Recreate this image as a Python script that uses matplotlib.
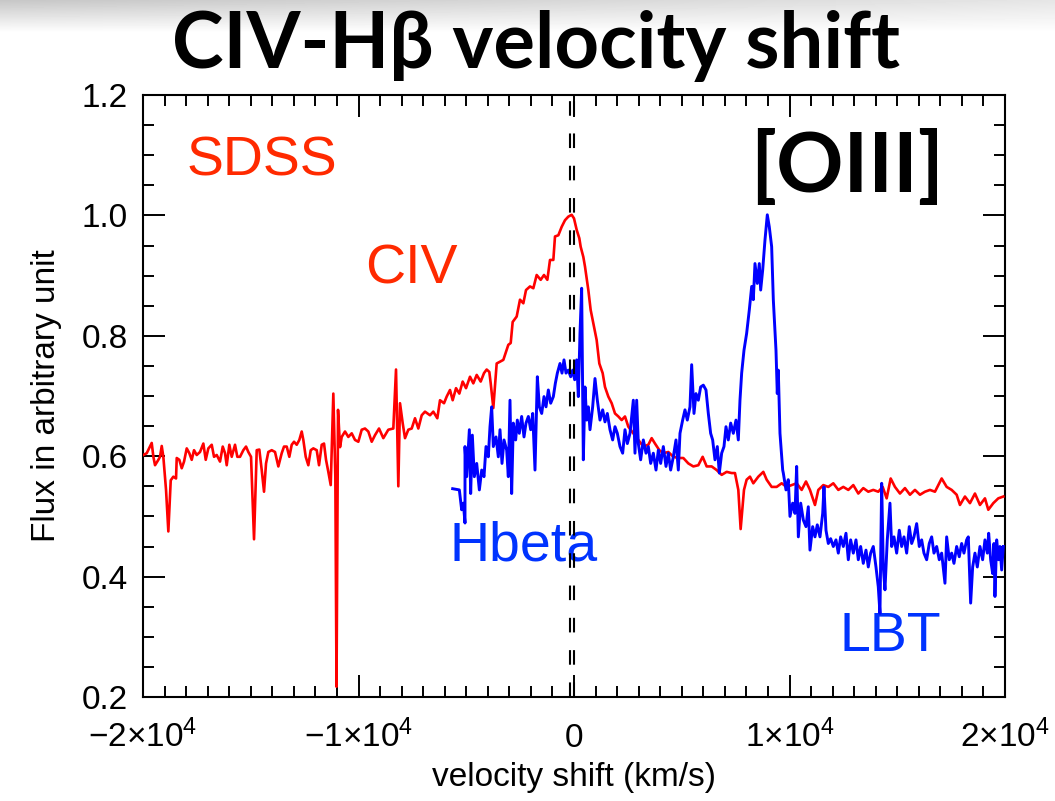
import matplotlib
matplotlib.use("Agg")
import matplotlib.pyplot as plt
import numpy as np

#=========================================
# DATA (velocity in km/s, flux in arbitrary units)
#=========================================

# SDSS CIV spectrum (red)
civ_vel = [-19985, -19827, -19674, -19596, -19518, -19442, -19288, -19210, -19131, -19056,
           -18931, -18824, -18713, -18592, -18467, -18435, -18314, -18203, -18096, -17971,
           -17850, -17739, -17632, -17507, -17354, -17200, -17089, -16968, -16811, -16704,
           -16579, -16426, -16300, -16194, -16115, -15994, -15883, -15730, -15623, -15498,
           -15344, -15219, -15112, -14987, -14848, -14723, -14602, -14491, -14384, -14291,
           -14184, -14027, -13874, -13720, -13563, -13456, -13331, -13210, -13099, -12992,
           -12867, -12746, -12635, -12560, -12449, -12328, -12217, -12096, -11939, -11832,
           -11707, -11600, -11507, -11400, -11289, -11168, -11075, -11020, -10950, -10858,
           -10780, -10626, -10472, -10315, -10162, -10008, -9851, -9698, -9545, -9387,
           -9234, -9048, -8848, -8617, -8384, -8259, -8152, -8074, -7950, -7842,
           -7688, -7531, -7378, -7224, -7067, -6914, -6682, -6529, -6343, -6218,
           -6032, -5908, -5754, -5630, -5475, -5321, -5166, -5011, -4826, -4672,
           -4515, -4330, -4176, -4052, -3929, -3865, -3744, -3588, -3434, -3279,
           -3048, -2937, -2846, -2660, -2506, -2351, -2227, -2042, -1887, -1732,
           -1546, -1392, -1237, -1114, -959, -882, -727, -572, -418, -263,
           -108, 0, 124, 247, 309, 433, 510, 665, 773, 897,
           1051, 1175, 1330, 1438, 1593, 1748, 1902, 2057, 2212, 2366,
           2521, 2753, 2985, 3217, 3449, 3604, 3758, 3960, 4145, 4377,
           4609, 4841, 5073, 5305, 5537, 5769, 5970, 6156, 6388, 6620,
           6852, 7084, 7316, 7470, 7625, 7733, 7888, 8011, 8166, 8321,
           8553, 8785, 8940, 9172, 9404, 9636, 9868, 10100, 10332, 10564,
           10765, 10950, 11182, 11337, 11569, 11801, 12033, 12265, 12497, 12729,
           12961, 13193, 13424, 13656, 13888, 14120, 14323, 14509, 14695, 14894,
           15126, 15358, 15590, 15822, 16054, 16286, 16518, 16750, 17061, 17293,
           17525, 17757, 17910, 18142, 18374, 18606, 18838, 19070, 19225, 19457,
           19689, 19921]
civ_flux = [0.602, 0.605, 0.616, 0.622, 0.599, 0.585, 0.594, 0.599, 0.617, 0.599,
            0.544, 0.475, 0.560, 0.566, 0.563, 0.597, 0.594, 0.580, 0.591, 0.613,
            0.605, 0.594, 0.610, 0.602, 0.607, 0.621, 0.594, 0.613, 0.619, 0.599,
            0.602, 0.591, 0.616, 0.605, 0.585, 0.619, 0.599, 0.619, 0.599, 0.599,
            0.610, 0.616, 0.607, 0.599, 0.462, 0.610, 0.611, 0.577, 0.541, 0.588,
            0.607, 0.610, 0.607, 0.583, 0.605, 0.616, 0.616, 0.599, 0.619, 0.624,
            0.619, 0.627, 0.641, 0.627, 0.599, 0.585, 0.610, 0.613, 0.610, 0.585,
            0.619, 0.621, 0.594, 0.574, 0.552, 0.704, 0.566, 0.217, 0.677, 0.615,
            0.632, 0.641, 0.632, 0.638, 0.627, 0.624, 0.644, 0.646, 0.641, 0.624,
            0.635, 0.646, 0.630, 0.644, 0.646, 0.744, 0.550, 0.688, 0.655, 0.630,
            0.644, 0.646, 0.663, 0.646, 0.668, 0.674, 0.668, 0.674, 0.663, 0.693,
            0.688, 0.699, 0.710, 0.693, 0.713, 0.704, 0.724, 0.713, 0.732, 0.721,
            0.735, 0.724, 0.738, 0.744, 0.740, 0.721, 0.680, 0.754, 0.757, 0.760,
            0.785, 0.788, 0.823, 0.832, 0.860, 0.854, 0.876, 0.882, 0.879, 0.901,
            0.893, 0.901, 0.893, 0.926, 0.926, 0.965, 0.967, 0.981, 0.992, 0.998,
            1.001, 0.995, 0.976, 0.962, 0.948, 0.931, 0.915, 0.876, 0.843, 0.821,
            0.793, 0.754, 0.738, 0.715, 0.699, 0.688, 0.671, 0.666, 0.660, 0.666,
            0.649, 0.638, 0.627, 0.616, 0.619, 0.630, 0.621, 0.610, 0.605, 0.607,
            0.599, 0.597, 0.597, 0.588, 0.583, 0.585, 0.599, 0.583, 0.583, 0.577,
            0.569, 0.574, 0.572, 0.572, 0.544, 0.479, 0.544, 0.561, 0.566, 0.555,
            0.566, 0.574, 0.561, 0.549, 0.549, 0.555, 0.549, 0.552, 0.555, 0.544,
            0.558, 0.544, 0.519, 0.544, 0.552, 0.549, 0.555, 0.544, 0.549, 0.544,
            0.552, 0.538, 0.547, 0.541, 0.544, 0.541, 0.549, 0.530, 0.563, 0.549,
            0.538, 0.547, 0.536, 0.544, 0.536, 0.541, 0.544, 0.541, 0.563, 0.549,
            0.544, 0.536, 0.519, 0.533, 0.522, 0.538, 0.519, 0.530, 0.511, 0.522,
            0.530, 0.533]

# LBT Hbeta spectrum (blue)
hb_vel = [-5630, -5321, -5213, -5135, -5058, -5058, -4980, -4856, -4795, -4718,
          -4625, -4515, -4392, -4283, -4176, -4083, -3976, -3898, -3820, -3744,
          -3619, -3512, -3434, -3341, -3248, -3124, -3048, -2970, -2893, -2816,
          -2707, -2630, -2538, -2429, -2320, -2227, -2118, -2010, -1916, -1810,
          -1701, -1608, -1499, -1392, -1299, -1191, -1082, -959, -866, -773,
          -650, -557, -464, -371, -263, -155, -62, 31, 124, 201,
          278, 355, 433, 510, 587, 665, 742, 866, 974, 1083,
          1206, 1330, 1438, 1547, 1670, 1794, 1902, 2011, 2134, 2258,
          2366, 2475, 2598, 2753, 2830, 2908, 2985, 3093, 3217, 3341,
          3449, 3558, 3681, 3805, 3913, 4022, 4145, 4269, 4377, 4485,
          4609, 4733, 4841, 4918, 5042, 5150, 5258, 5382, 5460, 5568,
          5661, 5769, 5877, 6001, 6125, 6233, 6341, 6434, 6542, 6650,
          6743, 6852, 6960, 7053, 7160, 7271, 7393, 7517, 7625, 7702,
          7780, 7888, 8011, 8135, 8245, 8321, 8398, 8506, 8599, 8662,
          8755, 8862, 8970, 9062, 9172, 9249, 9373, 9433, 9480, 9558,
          9684, 9713, 9837, 9943, 10022, 10147, 10254, 10332, 10410, 10519,
          10641, 10765, 10872, 10950, 11075, 11182, 11289, 11414, 11540, 11600,
          11693, 11801, 11910, 12033, 12157, 12265, 12374, 12497, 12621, 12729,
          12838, 12961, 13085, 13193, 13302, 13424, 13549, 13656, 13765, 13888,
          14013, 14120, 14198, 14277, 14352, 14430, 14537, 14662, 14741, 14848,
          14973, 15095, 15205, 15312, 15437, 15558, 15669, 15776, 15901, 16022,
          16133, 16240, 16365, 16486, 16597, 16704, 16829, 16950, 17061, 17214,
          17293, 17414, 17525, 17632, 17757, 17878, 17989, 18096, 18220, 18297,
          18406, 18499, 18606, 18715, 18838, 18962, 19070, 19179, 19242, 19335,
          19428, 19488, 19534, 19613, 19706, 19766, 19845, 19921]
hb_flux = [0.546, 0.544, 0.511, 0.522, 0.489, 0.616, 0.566, 0.644, 0.538, 0.635,
           0.566, 0.588, 0.544, 0.577, 0.566, 0.616, 0.599, 0.649, 0.682, 0.616,
           0.632, 0.599, 0.644, 0.588, 0.627, 0.610, 0.566, 0.693, 0.538, 0.655,
           0.627, 0.660, 0.638, 0.666, 0.632, 0.655, 0.666, 0.644, 0.671, 0.577,
           0.732, 0.682, 0.671, 0.699, 0.682, 0.710, 0.688, 0.699, 0.721, 0.738,
           0.754, 0.738, 0.760, 0.738, 0.743, 0.732, 0.743, 0.727, 0.760, 0.699,
           0.804, 0.879, 0.594, 0.715, 0.660, 0.682, 0.644, 0.682, 0.729, 0.693,
           0.660, 0.677, 0.657, 0.671, 0.644, 0.627, 0.649, 0.638, 0.616, 0.605,
           0.644, 0.621, 0.638, 0.693, 0.605, 0.693, 0.621, 0.594, 0.627, 0.605,
           0.616, 0.588, 0.605, 0.577, 0.610, 0.588, 0.616, 0.583, 0.605, 0.577,
           0.599, 0.627, 0.577, 0.638, 0.660, 0.677, 0.660, 0.682, 0.752, 0.671,
           0.704, 0.693, 0.715, 0.718, 0.710, 0.671, 0.638, 0.627, 0.594, 0.616,
           0.572, 0.605, 0.616, 0.649, 0.627, 0.655, 0.638, 0.660, 0.627, 0.693,
           0.738, 0.776, 0.804, 0.843, 0.882, 0.860, 0.920, 0.887, 0.920, 0.876,
           0.909, 0.959, 1.001, 0.981, 0.948, 0.860, 0.776, 0.704, 0.743, 0.638,
           0.577, 0.572, 0.544, 0.561, 0.500, 0.522, 0.505, 0.583, 0.466, 0.522,
           0.494, 0.483, 0.516, 0.444, 0.483, 0.466, 0.486, 0.466, 0.505, 0.549,
           0.477, 0.455, 0.463, 0.450, 0.461, 0.439, 0.466, 0.450, 0.472, 0.428,
           0.461, 0.439, 0.461, 0.428, 0.450, 0.422, 0.444, 0.416, 0.439, 0.450,
           0.416, 0.383, 0.339, 0.555, 0.416, 0.378, 0.461, 0.522, 0.450, 0.466,
           0.439, 0.477, 0.450, 0.466, 0.439, 0.483, 0.455, 0.466, 0.488, 0.450,
           0.461, 0.439, 0.428, 0.455, 0.466, 0.439, 0.450, 0.428, 0.439, 0.389,
           0.466, 0.428, 0.439, 0.422, 0.450, 0.433, 0.455, 0.439, 0.461, 0.466,
           0.356, 0.416, 0.439, 0.416, 0.450, 0.428, 0.461, 0.439, 0.472, 0.428,
           0.405, 0.455, 0.367, 0.461, 0.428, 0.450, 0.411, 0.450]

# dashed reference lines (km/s)
ref_lines = [-200, 0]

x_ticks = [-20000, -10000, 0, 10000, 20000]
x_ticklabels = [r"$-2{\times}10^{4}$", r"$-1{\times}10^{4}$", "0",
                r"$1{\times}10^{4}$", r"$2{\times}10^{4}$"]
y_ticks = [0.2, 0.4, 0.6, 0.8, 1.0, 1.2]

#=========================================
# FIGURE
#=========================================
plt.rcParams["font.family"] = ["Liberation Sans", "DejaVu Sans"]
plt.rcParams["mathtext.fontset"] = "custom"
plt.rcParams["mathtext.rm"] = "Liberation Sans"
plt.rcParams["mathtext.it"] = "Liberation Sans"

fig = plt.figure(figsize=(10.55, 8.01), dpi=100)

# faint grey slide gradient at the top
bg = fig.add_axes([0, 0, 1, 1], zorder=-5)
yy, xx = np.mgrid[0:801, 0:1055]
shade = np.clip(1 - yy / 32.0, 0, 1) * (0.22 - 0.12 * xx / 1055.0)
bg.imshow(1 - shade, cmap="gray", vmin=0, vmax=1, aspect="auto", interpolation="bilinear")
bg.axis("off")

ax = fig.add_axes([143 / 1055, 1 - 697 / 801, 862 / 1055, 602 / 801])
ax.patch.set_alpha(0)

ax.plot(civ_vel, civ_flux, color="#ff0000", lw=1.9, zorder=3)
ax.plot(hb_vel, hb_flux, color="#0000ff", lw=2.1, zorder=4)
for v in ref_lines:
    ax.axvline(v, color="black", lw=1.5, ls=(0, (7, 8.5)), zorder=5)

ax.set_xlim(-20000, 20000)
ax.set_ylim(0.2, 1.2)
ax.set_xticks(x_ticks)
ax.set_xticklabels(x_ticklabels)
ax.set_yticks(y_ticks)
ax.set_yticklabels(["%.1f" % t for t in y_ticks])
ax.set_xticks(np.arange(-20000, 20001, 1000), minor=True)
ax.set_yticks(np.arange(0.2, 1.201, 0.05), minor=True)
ax.tick_params(which="both", direction="in", top=True, right=True, width=1.4, colors="black")
ax.tick_params(which="major", length=16, labelsize=24)
ax.tick_params(which="minor", length=8)
ax.tick_params(axis="y", pad=11)
ax.tick_params(axis="x", pad=36)
# put all x labels on one baseline (the plain "0" has no superscript)
for t in ax.xaxis.get_major_ticks():
    t.label1.set_verticalalignment("baseline")
for s in ax.spines.values():
    s.set_linewidth(1.5)

ax.set_xlabel("velocity shift (km/s)", fontsize=24, labelpad=6)
ax.set_ylabel("Flux in arbitrary unit", fontsize=24, labelpad=14)

# annotations
ax.text(-18000, 1.09, "SDSS", color="#ff2a00", fontsize=40, va="center", ha="left")
ax.text(-9700, 0.91, "CIV", color="#ff2a00", fontsize=40, va="center", ha="left")
ax.text(-5800, 0.45, "Hbeta", color="#0033ff", fontsize=40, va="center", ha="left")
ax.text(12300, 0.30, "LBT", color="#0033ff", fontsize=40, va="center", ha="left")
ax.text(8150, 1.08, "[OIII]", color="black", fontsize=60, fontweight="bold",
        family=["Lato", "DejaVu Sans"], va="center", ha="left")

fig.text(0.508, 1 - 46 / 801, "CIV-H\u03b2 velocity shift", fontsize=56, fontweight="bold",
         family=["Lato", "DejaVu Sans"], ha="center", va="center")

fig.savefig("out.png", dpi=100)
